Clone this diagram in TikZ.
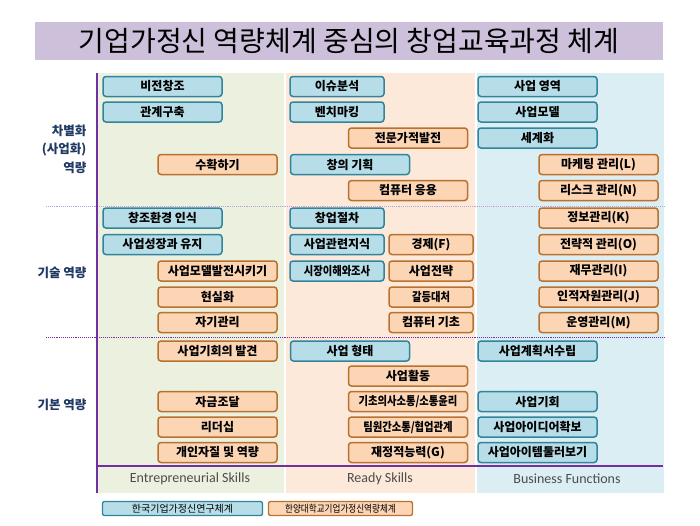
\documentclass[tikz,border=0pt]{standalone}
\usepackage{fontspec}
\setmainfont{Noto Sans CJK KR}
\newfontfamily\latfont{Carlito}
\usepackage{graphicx}
\usepackage{xcolor}
\usepackage{tikz}
\usetikzlibrary{positioning}

\definecolor{blufill}{HTML}{B7DEE8}
\definecolor{bludraw}{HTML}{31849B}
\definecolor{orgfill}{HTML}{FCD5B5}
\definecolor{orgdraw}{HTML}{B8712F}
\definecolor{titlebg}{HTML}{CCC0DA}
\definecolor{colA}{HTML}{EBF1DE}
\definecolor{colB}{HTML}{FDE9D9}
\definecolor{colC}{HTML}{DAEEF3}
\definecolor{violetln}{HTML}{7030A0}
\definecolor{lblnavy}{HTML}{1F3864}

\newcommand{\squeeze}[1]{\scalebox{0.86}[1]{#1}}

\begin{document}
\begin{tikzpicture}[
x=1pt, y=-1pt,
blu/.style={
  rectangle,
  rounded corners=3pt,
  draw=bludraw,
  fill=blufill,
  line width=1.5pt,
  minimum height=20pt,
  inner sep=0pt,
  font=\bfseries\fontsize{12}{14}\selectfont
},
org/.style={
  rectangle,
  rounded corners=3pt,
  draw=orgdraw,
  fill=orgfill,
  line width=1.5pt,
  minimum height=20pt,
  inner sep=0pt,
  font=\bfseries\fontsize{12}{14}\selectfont
},
  wide/.style={minimum width=119pt},
  narrow/.style={minimum width=94pt},
  small/.style={minimum width=84pt},
  lvl/.style={font=\bfseries\fontsize{12.5}{18.5}\selectfont, text=lblnavy, anchor=east, align=right},
  skill/.style={font=\latfont\fontsize{14}{16}\selectfont, text=black!70},
  legend/.style={rectangle, rounded corners=2pt, line width=1.3pt, minimum height=14pt, inner sep=0pt,
    font=\fontsize{10}{12}\selectfont}
]
\useasboundingbox (0,0) rectangle (700,525);

% ---- TITLE ----
\fill[titlebg] (35,22) rectangle (663,60);
\node[font=\fontsize{28}{30}\selectfont] (title) at (349,41) {기업가정신 역량체계 중심의 창업교육과정 체계};

% ---- COLUMN BACKGROUNDS ----
\fill[colA] (97,73) rectangle (284,493);
\fill[colB] (286,73) rectangle (475,493);
\fill[colC] (477,73) rectangle (664,493);

% ---- GRID LINES ----
\draw[violetln!45, densely dotted, line width=0.9pt] (46,206) -- (664,206);
\draw[violetln, densely dotted, line width=0.9pt] (46,337) -- (664,337);
\draw[violetln, line width=2.4pt] (97,73) -- (97,493);
\draw[violetln, line width=2.4pt] (96,466) -- (663,466);

% ---- LEVEL LABELS ----
\node[lvl] (lvdiff) at (90,149) {차별화\\(사업화)\\역량};
\node[lvl] (lvtech) at (90,273) {기술 역량};
\node[lvl] (lvbase) at (90,405) {기본 역량};

% ---- ENTREPRENEURIAL SKILLS ----
\node[blu, wide] (vision)   at (162.5, 86.5) {비전창조};
\node[blu, wide] (relation) at (162.5,112)   {관계구축};
\node[org, wide] (harvest)  at (217.5,164.5) {수확하기};
\node[blu, wide] (envaware) at (162.5,218)   {창조환경 인식};
\node[blu, wide] (growth)   at (162.5,244.5) {사업성장과 유지};
\node[org, wide] (bmdev)    at (217.5,271)   {사업모델발전시키기};
\node[org, wide] (realize)  at (217.5,297)   {현실화};
\node[org, wide] (selfmgmt) at (217.5,322.5) {자기관리};
\node[org, wide] (oppfind)  at (217.5,351)   {사업기회의 발견};
\node[org, wide] (funding)  at (217.5,401.5) {자금조달};
\node[org, wide] (leader)   at (217.5,427)   {리더십};
\node[org, wide] (personal) at (217.5,452.5) {개인자질 및 역량};

% ---- READY SKILLS ----
\node[blu, narrow] (issue)     at (337, 86.5) {이슈분석};
\node[blu, narrow] (bench)     at (337,112)   {벤치마킹};
\node[org, wide]   (prodev)    at (408,138)   {전문가적발전};
\node[blu, wide]   (creplan)   at (350,164.5) {창의 기획};
\node[org, wide]   (compapp)   at (408,190.5) {컴퓨터 응용};
\node[blu, narrow] (startproc) at (337,218)   {창업절차};
\node[blu, narrow] (bizknow)   at (337,244.5) {사업관련지식};
\node[org, small]  (econ)      at (431,244.5) {경제(F)};
\node[blu, narrow] (market)    at (337,271)   {\squeeze{시장이해와조사}};
\node[org, small]  (strategy)  at (431,271)   {사업전략};
\node[org, small]  (conflict)  at (431,297)   {\squeeze{갈등대처}};
\node[org, small]  (compbase)  at (431,322.5) {컴퓨터 기초};
\node[blu, wide]   (biztype)   at (350,351)   {사업 형태};
\node[org, wide]   (bizact)    at (408,376)   {사업활동};
\node[org, wide]   (basiccomm) at (408,401.5) {\squeeze{기초의사소통/소통윤리}};
\node[org, wide]   (teamcomm)  at (408,427)   {\squeeze{팀원간소통/협업관계}};
\node[org, wide]   (finance)   at (408,452.5) {재정적능력(G)};

% ---- BUSINESS FUNCTIONS ----
\node[blu, wide] (bizarea)   at (537.5, 86.5) {사업 영역};
\node[blu, wide] (bizmodel)  at (537.5,112)   {사업모델};
\node[blu, wide] (global)    at (537.5,138)   {세계화};
\node[org, wide] (marketing) at (598.5,164.5) {마케팅 관리(L)};
\node[org, wide] (risk)      at (598.5,190.5) {리스크 관리(N)};
\node[org, wide] (info)      at (598.5,218)   {정보관리(K)};
\node[org, wide] (stratmgmt) at (598.5,244.5) {전략적 관리(O)};
\node[org, wide] (finmgmt)   at (598.5,271)   {재무관리(I)};
\node[org, wide] (hrmgmt)    at (598.5,297)   {인적자원관리(J)};
\node[org, wide] (opmgmt)    at (598.5,322.5) {운영관리(M)};
\node[blu, wide] (bizplan)   at (537.5,351)   {사업계획서수립};
\node[blu, wide] (bizopp)    at (537.5,401.5) {사업기회};
\node[blu, wide] (ideas)     at (537.5,427)   {사업아이디어확보};
\node[blu, wide] (items)     at (537.5,452.5) {사업아이템둘러보기};

% ---- COLUMN NAMES ----
\node[skill] (skentre) at (190,479) {Entrepreneurial Skills};
\node[skill] (skready) at (380,479) {Ready Skills};
\node[skill] (skbiz)   at (567,479) {Business Functions};

% ---- LEGEND ----
\node[legend, draw=bludraw, fill=blufill, minimum width=160pt] (legkor) at (182.5,508.5) {한국기업가정신연구체계};
\node[legend, draw=orgdraw, fill=orgfill, minimum width=144pt] (leghy)  at (340.5,508.5) {\squeeze{한양대학교기업가정신역량체계}};

\end{tikzpicture}
\end{document}
